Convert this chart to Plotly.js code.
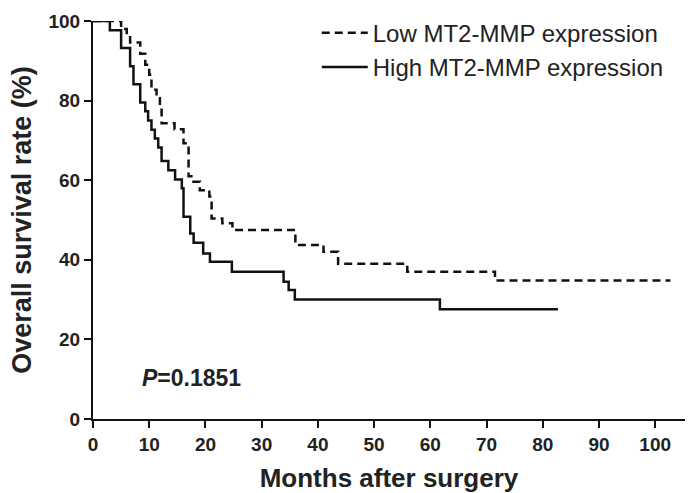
<!DOCTYPE html>
<html>
<head>
<meta charset="utf-8">
<script src="https://cdn.plot.ly/plotly-3.0.1.min.js"></script>
<style>html,body{margin:0;padding:0;background:#fff;}#chart{width:690px;height:493px;}</style>
</head>
<body>
<div id="chart"></div>
<script>
// Kaplan-Meier step data
const lowMonths = [0, 5, 6, 6.6, 8.4, 9.3, 10, 10.4, 11.3, 11.9, 12.2, 14.5, 16.1, 17, 17.5, 19, 20.7, 21.1, 23, 24.8, 36, 41, 43.6, 55.9, 71.5, 102.7];
const lowSurv   = [100, 98, 96.4, 94.6, 91.8, 89, 86.5, 82.7, 80.6, 78.5, 74.3, 72.8, 69.3, 61, 59.6, 57.5, 55.9, 50.4, 49.2, 47.5, 43.7, 42, 39, 37, 34.8, 34.8];

const highMonths = [0, 3, 5, 6.6, 7.2, 8.4, 9.3, 9.8, 10.4, 11, 11.6, 12.2, 13.4, 14.6, 15.8, 16.1, 17.3, 17.9, 19.6, 20.8, 24.7, 33.9, 34.8, 35.9, 61.7, 82.7];
const highSurv   = [100, 97.7, 93.2, 88.6, 84.1, 79.5, 77.3, 75.0, 72.7, 70.5, 68.2, 64.8, 62.5, 60.2, 58.0, 50.8, 46.6, 44.3, 41.6, 39.5, 37.0, 34.5, 32.4, 30.0, 27.6, 27.6];

const seriesNames = ['Low MT2-MMP expression', 'High MT2-MMP expression'];
const xTicks = [0, 10, 20, 30, 40, 50, 60, 70, 80, 90, 100];
const yTicks = [0, 20, 40, 60, 80, 100];
const pValueText = '<i>P</i>=0.1851';

const font = 'Liberation Sans, Arial, sans-serif';

const traces = [
  {x: lowMonths, y: lowSurv, name: seriesNames[0], type: 'scatter', mode: 'lines',
   line: {shape: 'hv', color: '#111', width: 2.5, dash: '8px,5px'}, legendgroup: 'a'},
  {x: highMonths, y: highSurv, name: seriesNames[1], type: 'scatter', mode: 'lines',
   line: {shape: 'hv', color: '#111', width: 2.5}, legendgroup: 'b'}
];

const layout = {
  width: 690, height: 493,
  margin: {l: 93, r: 5, t: 21, b: 74},
  paper_bgcolor: '#fff', plot_bgcolor: '#fff',
  font: {family: font, color: '#222'},
  showlegend: true,
  legend: {x: 0.378, y: 1.026, xanchor: 'left', yanchor: 'top', bgcolor: 'rgba(0,0,0,0)',
           font: {size: 24, family: font, color: '#222'}, traceorder: 'grouped', tracegroupgap: 0,
           itemwidth: 46},
  xaxis: {
    range: [0, 105.3], tickvals: xTicks, ticktext: xTicks.map(String),
    showline: true, linecolor: '#111', linewidth: 2, ticks: 'outside', ticklen: 7, tickwidth: 2, tickcolor: '#111',
    showgrid: false, zeroline: false,
    tickfont: {size: 19, family: font, weight: 'bold', color: '#222'},
    title: {text: '<b>Months after surgery</b>', font: {size: 26, family: font, color: '#222'}, standoff: 17}
  },
  yaxis: {
    range: [0, 100], tickvals: yTicks, ticktext: yTicks.map(String),
    showline: true, linecolor: '#111', linewidth: 2, ticks: 'outside', ticklen: 7, tickwidth: 2, tickcolor: '#111',
    showgrid: false, zeroline: false,
    tickfont: {size: 19, family: font, weight: 'bold', color: '#222'},
    title: {text: '<b>Overall survival rate (%)</b>', font: {size: 27, family: font, color: '#222'}, standoff: 9}
  },
  annotations: [
    {x: 8.4, y: 10.3, xref: 'x', yref: 'y', xanchor: 'left', yanchor: 'middle', showarrow: false,
     text: '<b>' + pValueText + '</b>', font: {size: 23, family: font, color: '#222'}}
  ]
};

Plotly.newPlot('chart', traces, layout, {displayModeBar: false, staticPlot: true});
</script>
</body>
</html>
